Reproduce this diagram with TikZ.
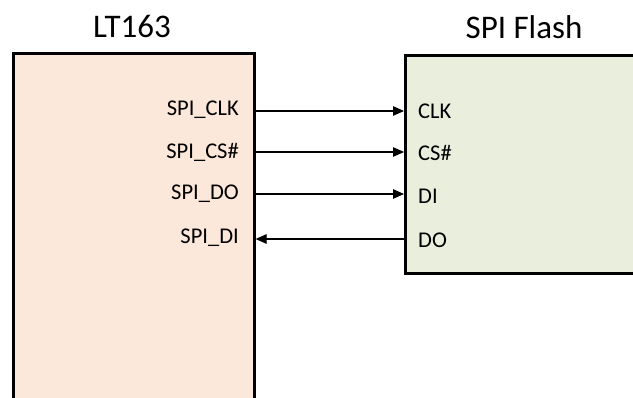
\documentclass[tikz,border=0pt]{standalone}
\usepackage{fontspec}
\setmainfont{Carlito}
\usetikzlibrary{arrows.meta}
\definecolor{ltfill}{HTML}{FCE8DA}
\definecolor{flfill}{HTML}{EAEEDD}
\tikzset{
  chip/.style={draw=black, line width=2.6pt, anchor=north west, inner sep=0pt},
  title/.style={font=\fontsize{33}{36}\selectfont, inner sep=0pt},
  pin/.style={font=\fontsize{22.5}{25}\selectfont, inner sep=0pt},
  sig/.style={line width=1.2pt, -{Triangle[length=11pt,width=9.5pt]}},
}
\begin{document}
\begin{tikzpicture}[x=1pt,y=-1pt]
\useasboundingbox (0,0) rectangle (633,398);
\clip (0,0) rectangle (633,398);
\node[chip, fill=ltfill, minimum width=241pt, minimum height=380pt] (lt) at (12,52) {};
\node[chip, fill=flfill, minimum width=250pt, minimum height=218pt] (fl) at (404,54) {};
\node[title] (tlt) at (132,26) {LT163};
\node[title] (tfl) at (524,27) {SPI Flash};
\node[pin, anchor=east] (lclk) at (239,110) {SPI\_CLK};
\node[pin, anchor=east] (lcs) at (239,152) {SPI\_CS\#};
\node[pin, anchor=east] (ldo) at (239,194) {SPI\_DO};
\node[pin, anchor=east] (ldi) at (239,238) {SPI\_DI};
\node[pin, anchor=west] (fclk) at (418,111) {CLK};
\node[pin, anchor=west] (fcs) at (418,153) {CS\#};
\node[pin, anchor=west] (fdi) at (418,196) {DI};
\node[pin, anchor=west] (fdo) at (418,240) {DO};
\draw[sig] (lclk.east -| lt.east) ++(0,1) coordinate (s1) -- (s1 -| fl.west);
\draw[sig] (lcs.east -| lt.east) ++(0,0) coordinate (s2) -- (s2 -| fl.west);
\draw[sig] (ldo.east -| lt.east) ++(0,0) coordinate (s3) -- (s3 -| fl.west);
\draw[sig] (fdo.west -| fl.west) ++(0,-1) coordinate (s4) -- (s4 -| lt.east);
\end{tikzpicture}
\end{document}
